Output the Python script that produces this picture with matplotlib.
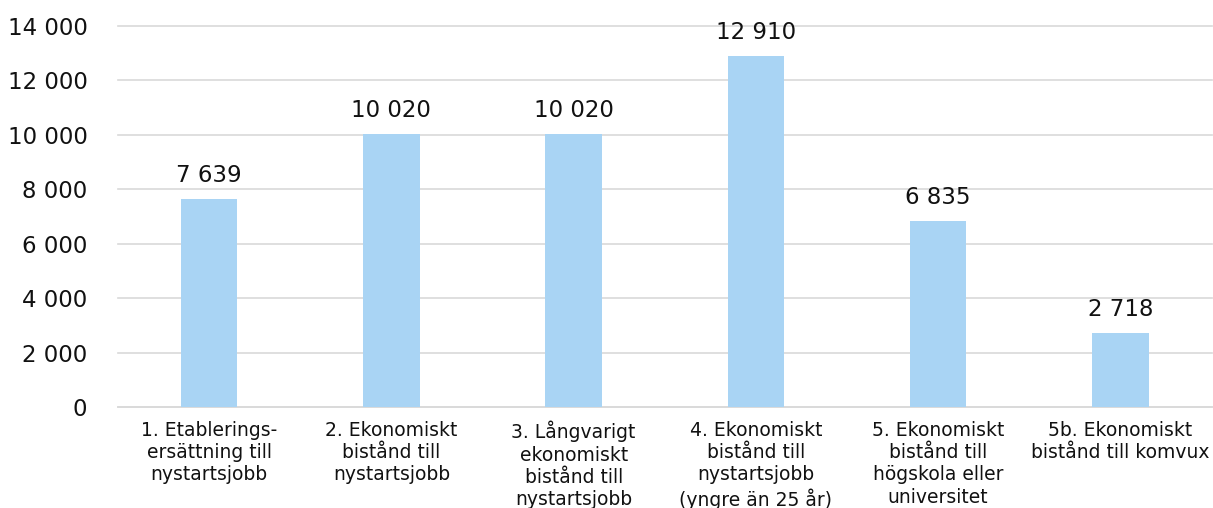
import numpy as np
import matplotlib.pyplot as plt

# Data
categories = [
    "1. Etablerings-\nersättning till\nnystartsjobb",
    "2. Ekonomiskt\nbistånd till\nnystartsjobb",
    "3. Långvarigt\nekonomiskt\nbistånd till\nnystartsjobb",
    "4. Ekonomiskt\nbistånd till\nnystartsjobb\n(yngre än 25 år)",
    "5. Ekonomiskt\nbistånd till\nhögskola eller\nuniversitet",
    "5b. Ekonomiskt\nbistånd till komvux",
]
values = [7639, 10020, 10020, 12910, 6835, 2718]
yticks = [0, 2000, 4000, 6000, 8000, 10000, 12000, 14000]


def fmt(v):
    return f"{v:,}".replace(",", " ")


fig = plt.figure(figsize=(12.13, 5.08), dpi=100)
ax = fig.add_axes([0.0973, 0.1988, 0.9015, 0.75])

x = np.arange(len(categories))
bars = ax.bar(x, values, width=0.31, color="#a9d4f4", zorder=3)

for xi, v in zip(x, values):
    ax.text(xi, v + 440, fmt(v), ha="center", va="bottom", fontsize=16.5, color="#111111")

ax.set_xlim(-0.5, len(categories) - 0.5)
ax.set_ylim(0, 14000)
ax.set_yticks(yticks)
ax.set_yticklabels([fmt(t) for t in yticks], fontsize=16.5, color="#111111")
ax.set_xticks(x)
ax.set_xticklabels(categories, fontsize=13.5, color="#111111", linespacing=1.22, va="top")

ax.grid(axis="y", color="#d9d9d9", linewidth=1.2, zorder=0)
for gl in ax.get_ygridlines():
    gl.set_clip_on(False)
ax.tick_params(axis="both", length=0)
ax.tick_params(axis="y", pad=22)
ax.tick_params(axis="x", pad=10)
for side in ["top", "right", "left"]:
    ax.spines[side].set_visible(False)
ax.spines["bottom"].set_color("#d9d9d9")
ax.spines["bottom"].set_linewidth(1.2)

fig.savefig("out.png", dpi=100)
